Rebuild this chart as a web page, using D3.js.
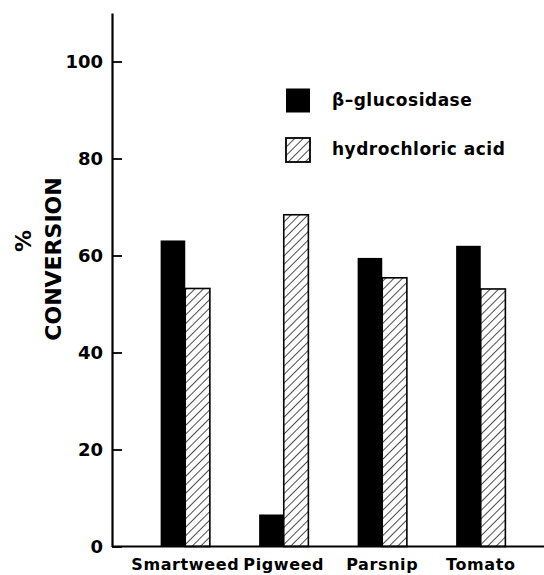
<!DOCTYPE html>
<html>
<head>
<meta charset="utf-8">
<script src="https://cdn.jsdelivr.net/npm/d3@7"></script>
<style>
  body { margin: 0; background: #fff; }
  text { font-family: "DejaVu Sans", sans-serif; fill: #000; font-weight: bold; }
</style>
</head>
<body>
<svg class="bar-chart"></svg>
<script>
let categories = ["Smartweed", "Pigweed", "Parsnip", "Tomato"];
let seriesNames = ["β–glucosidase", "hydrochloric acid"];
let glucosidase = [63.1, 6.6, 59.5, 62.0];
let hydrochloric = [53.2, 68.4, 55.4, 53.1];
let yTicks = [0, 20, 40, 60, 80, 100];

let width = 544, height = 575;
let svg = d3.select(".bar-chart")
    .attr("width", width)
    .attr("height", height);

// hatch pattern for the acid bars
let defs = svg.append("defs");
defs.append("pattern")
    .attr("id", "hatch")
    .attr("patternUnits", "userSpaceOnUse")
    .attr("width", 6)
    .attr("height", 6)
    .attr("patternTransform", "rotate(45)")
  .append("line")
    .attr("x1", 0).attr("y1", 0)
    .attr("x2", 0).attr("y2", 6)
    .attr("stroke", "#000")
    .attr("stroke-width", 1.4);

let axisX = 112, baseY = 546.5;

let y = d3.scaleLinear().domain([0, 110]).range([baseY, 13]);
let x0 = d3.scaleBand().domain(categories).range([136, 530])
    .paddingInner(0.5).paddingOuter(0.25);
let x1 = d3.scaleBand().domain([0, 1]).range([0, x0.bandwidth()]);

let rows = categories.map((c, i) => ({cat: c, vals: [glucosidase[i], hydrochloric[i]]}));

let groups = svg.selectAll("g.grp")
    .data(rows)
    .enter()
    .append("g")
    .attr("class", "grp")
    .attr("transform", d => "translate(" + x0(d.cat) + ",0)");

groups.selectAll("rect")
    .data(d => d.vals.map((v, k) => ({k: k, v: v})))
    .enter()
    .append("rect")
    .attr("x", d => x1(d.k))
    .attr("y", d => y(d.v))
    .attr("width", x1.bandwidth())
    .attr("height", d => baseY - y(d.v))
    .attr("fill", d => d.k === 0 ? "#000" : "url(#hatch)")
    .attr("stroke", "#000")
    .attr("stroke-width", d => d.k === 0 ? 0 : 1.6);

// y axis
let yAxis = svg.append("g")
    .attr("transform", "translate(" + axisX + ",0)")
    .call(d3.axisLeft(y).tickValues(yTicks).tickSizeInner(-10).tickSizeOuter(0).tickPadding(9));
yAxis.select(".domain").attr("stroke-width", 2.2);
yAxis.selectAll(".tick line").attr("stroke-width", 1.8);
yAxis.selectAll(".tick text")
    .style("font-size", "18px")
    .style("font-weight", "bold")
    .attr("dy", "0.36em");

// x axis baseline
svg.append("line")
    .attr("x1", axisX).attr("x2", width)
    .attr("y1", baseY).attr("y2", baseY)
    .attr("stroke", "#000")
    .attr("stroke-width", 2.2);

svg.selectAll("text.cat")
    .data(categories)
    .enter()
    .append("text")
    .attr("class", "cat")
    .attr("x", d => x0(d) + x0.bandwidth() / 2)
    .attr("y", 570)
    .attr("text-anchor", "middle")
    .style("font-size", "16px")
    .style("letter-spacing", "0.6px")
    .text(d => d);

// y title
svg.append("text")
    .attr("transform", "translate(31,241) rotate(-90)")
    .attr("text-anchor", "middle")
    .style("font-size", "22px")
    .text("%");
svg.append("text")
    .attr("transform", "translate(61,259) rotate(-90)")
    .attr("text-anchor", "middle")
    .style("font-size", "22px")
    .text("CONVERSION");

// legend
let legend = svg.selectAll("g.leg")
    .data(seriesNames)
    .enter()
    .append("g")
    .attr("class", "leg")
    .attr("transform", (d, i) => "translate(286," + (88.5 + i * 49.5) + ")");

legend.append("rect")
    .attr("width", 24)
    .attr("height", 24)
    .attr("fill", (d, i) => i === 0 ? "#000" : "url(#hatch)")
    .attr("stroke", "#000")
    .attr("stroke-width", (d, i) => i === 0 ? 0 : 1.8);

legend.append("text")
    .attr("x", 46)
    .attr("y", 12)
    .attr("dy", "0.32em")
    .style("font-size", "17px")
    .style("letter-spacing", "0.5px")
    .text(d => d);
</script>
</body>
</html>
